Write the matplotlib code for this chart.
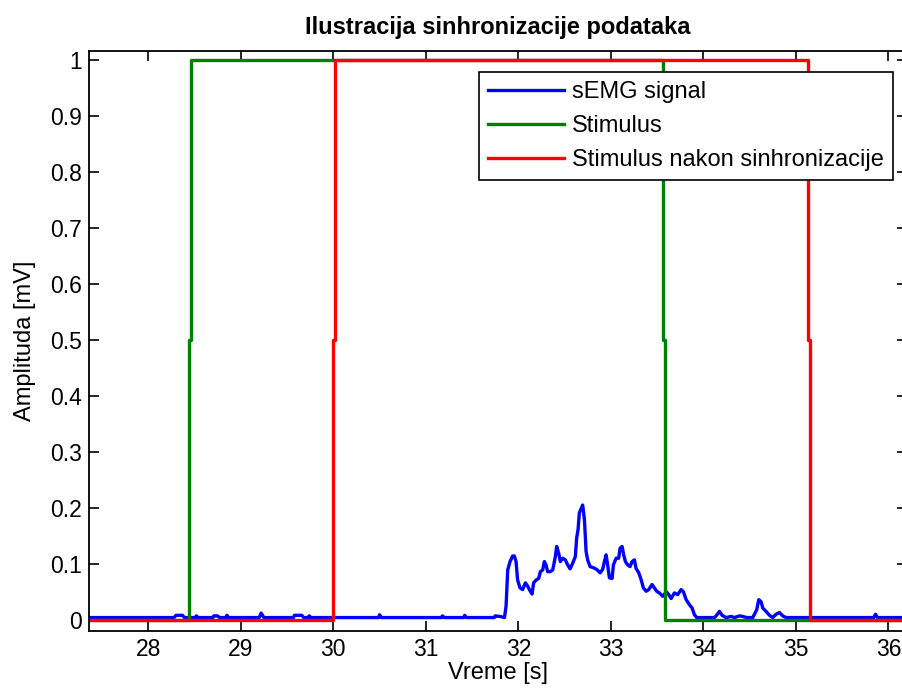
import matplotlib
matplotlib.use('Agg')
from matplotlib import pyplot as plt

plt.rcParams['font.family'] = ['Liberation Sans', 'DejaVu Sans']

# sEMG signal (time [s], amplitude [mV])
emg_t = [27.36, 28.28, 28.30, 28.37, 28.39, 28.51, 28.52, 28.54, 28.70, 28.71, 28.75, 28.77,
         28.84, 28.85, 28.87, 29.20, 29.22, 29.25, 29.57, 29.58, 29.66, 29.68, 29.73, 29.74,
         29.76, 30.49, 30.50, 30.52, 31.17, 31.18, 31.20, 31.41, 31.42, 31.44, 31.74, 31.75,
         31.80, 31.85, 31.867, 31.874, 31.885, 31.910, 31.938, 31.957, 31.975, 31.992, 32.018,
         32.046, 32.076, 32.101, 32.119, 32.148, 32.165, 32.191, 32.220, 32.238, 32.263,
         32.281, 32.299, 32.317, 32.343, 32.371, 32.400, 32.414, 32.436, 32.454, 32.479,
         32.508, 32.533, 32.559, 32.587, 32.616, 32.630, 32.645, 32.659, 32.695, 32.714,
         32.732, 32.749, 32.775, 32.811, 32.846, 32.883, 32.911, 32.930, 32.948, 32.965,
         32.984, 33.013, 33.027, 33.056, 33.084, 33.099, 33.121, 33.138, 33.157, 33.182,
         33.207, 33.229, 33.254, 33.272, 33.301, 33.326, 33.351, 33.381, 33.409, 33.445,
         33.470, 33.495, 33.524, 33.560, 33.600, 33.625, 33.651, 33.686, 33.722, 33.759,
         33.784, 33.813, 33.849, 33.878, 33.903, 33.928, 34.119, 34.137, 34.173, 34.202,
         34.245, 34.299, 34.335, 34.389, 34.425, 34.468, 34.533, 34.576, 34.598, 34.624,
         34.641, 34.677, 34.714, 34.749, 34.786, 34.822, 34.857, 34.893, 35.84, 35.86,
         35.88, 36.20]
emg_v = [0.004, 0.004, 0.008, 0.008, 0.004, 0.004, 0.007, 0.004, 0.004, 0.007, 0.007, 0.004,
         0.004, 0.008, 0.004, 0.004, 0.012, 0.004, 0.004, 0.008, 0.008, 0.004, 0.004, 0.007,
         0.004, 0.004, 0.009, 0.004, 0.004, 0.007, 0.004, 0.004, 0.008, 0.004, 0.004, 0.007,
         0.006, 0.004, 0.024, 0.048, 0.089, 0.104, 0.114, 0.114, 0.104, 0.071, 0.057,
         0.054, 0.066, 0.060, 0.054, 0.046, 0.066, 0.071, 0.074, 0.086, 0.089,
         0.104, 0.098, 0.086, 0.086, 0.089, 0.113, 0.131, 0.119, 0.104, 0.110,
         0.107, 0.098, 0.091, 0.101, 0.113, 0.146, 0.161, 0.191, 0.205, 0.179,
         0.122, 0.107, 0.095, 0.093, 0.090, 0.084, 0.090, 0.104, 0.116, 0.098,
         0.075, 0.074, 0.098, 0.110, 0.110, 0.128, 0.131, 0.116, 0.104, 0.098,
         0.095, 0.104, 0.107, 0.092, 0.084, 0.072, 0.057, 0.051, 0.054, 0.063,
         0.057, 0.051, 0.048, 0.042, 0.050, 0.045, 0.038, 0.048, 0.045, 0.054,
         0.050, 0.036, 0.027, 0.021, 0.009, 0.004, 0.004, 0.007, 0.015, 0.008,
         0.004, 0.006, 0.004, 0.007, 0.006, 0.004, 0.004, 0.018, 0.036, 0.032,
         0.021, 0.015, 0.008, 0.004, 0.010, 0.013, 0.007, 0.004, 0.004, 0.010,
         0.004, 0.004]

# stimulus before and after synchronization (0 -> 0.5 -> 1 steps)
stim_t = [27.36, 28.44, 28.44, 28.465, 28.465, 33.565, 33.565, 33.59, 33.59, 36.20]
stim_v = [0, 0, 0.5, 0.5, 1, 1, 0.5, 0.5, 0, 0]
sync_t = [27.36, 30.00, 30.00, 30.02, 30.02, 35.13, 35.13, 35.15, 35.15, 36.20]
sync_v = [0, 0, 0.5, 0.5, 1, 1, 0.5, 0.5, 0, 0]

fig = plt.figure(figsize=(9.02, 6.94), dpi=100)
ax = fig.add_axes([89 / 902, 63 / 694, 818 / 902, 580 / 694])

ax.plot(emg_t, emg_v, color='#0000ff', lw=2.4, label='sEMG signal')
ax.plot(stim_t, stim_v, color='#008000', lw=2.4, label='Stimulus')
ax.plot(sync_t, sync_v, color='#ff0000', lw=2.4, label='Stimulus nakon sinhronizacije')

ax.set_xlim(27.36, 36.2)
ax.set_ylim(-0.02, 1.016)
ax.set_xticks(range(28, 37))
ax.set_yticks([0, 0.1, 0.2, 0.3, 0.4, 0.5, 0.6, 0.7, 0.8, 0.9, 1])
ax.set_yticklabels(['0', '0.1', '0.2', '0.3', '0.4', '0.5', '0.6', '0.7', '0.8', '0.9', '1'])
ax.tick_params(direction='in', length=7, width=1.2, top=True, right=True,
               labelsize=16.5, pad=5)
for s in ax.spines.values():
    s.set_linewidth(1.3)

ax.set_title('Ilustracija sinhronizacije podataka', fontsize=17, fontweight='bold', pad=12)
ax.set_xlabel('Vreme [s]', fontsize=17, labelpad=1)
ax.set_ylabel('Amplituda [mV]', fontsize=17, labelpad=10)

leg = ax.legend(loc='upper right', bbox_to_anchor=(0.983, 0.964), borderaxespad=0,
                fontsize=17, handlelength=3.2, handletextpad=0.35, labelspacing=0.5,
                borderpad=0.4, fancybox=False, framealpha=1)
leg.get_frame().set_edgecolor('black')
leg.get_frame().set_linewidth(1.2)

plt.savefig('out.png', dpi=100)
